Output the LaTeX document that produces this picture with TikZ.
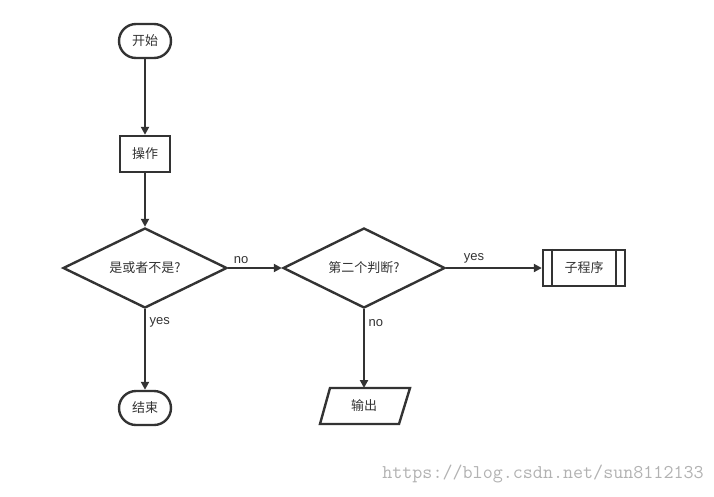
\documentclass[tikz,border=0pt]{standalone}
\usepackage{fontspec}
\newfontfamily\cjk{Noto Sans CJK SC}
\setmainfont{Liberation Sans}
\usetikzlibrary{shapes.geometric,shapes.multipart,arrows.meta}
\definecolor{ink}{HTML}{333333}
\begin{document}
\begin{tikzpicture}[x=1pt,y=-1pt,
  every node/.style={font=\cjk\fontsize{13}{15}\selectfont,text=ink},
  line/.style={draw=ink,line width=2.4pt},
  term/.style={line,rounded corners=17pt,minimum width=52pt,minimum height=34pt,inner sep=0pt},
  proc/.style={line,minimum width=50pt,minimum height=36pt,inner sep=0pt},
  dec/.style={line,diamond,aspect=2.05,minimum width=164pt,minimum height=80pt,inner sep=0pt},
  arr/.style={draw=ink,line width=2.4pt,-{Triangle[length=8pt,width=8pt]}},
  lab/.style={font=\fontsize{13}{15}\selectfont}]
\useasboundingbox (0,0) rectangle (714,496);
\node[term] (start) at (145,41) {开始};
\node[proc] (op) at (145,154) {操作};
\node[dec] (d1) at (145,268) {是或者不是?};
\node[dec,minimum width=162pt] (d2) at (364,268) {第二个判断?};
\node[proc,minimum width=82pt] (sub) at (584,268) {子程序};
\draw[line] ([xshift=10pt]sub.north west) -- ([xshift=10pt]sub.south west)
  ([xshift=-10pt]sub.north east) -- ([xshift=-10pt]sub.south east);
\node[term] (end) at (145,408) {结束};
\node[inner sep=0pt,minimum width=70pt,minimum height=36pt] (out) at (364,406) {输出};
\draw[line,line join=miter] (330,388) -- (410,388) -- (399,424) -- (320,424) -- cycle;
\draw[arr] (start) -- (op);
\draw[arr] (op) -- (d1);
\draw[arr] (d1) -- (d2) node[pos=0.5,above,lab,xshift=-14pt] {no};
\draw[arr] (d2) -- (sub) node[pos=0.5,above,lab,xshift=-20pt] {yes};
\draw[arr] (d1) -- (end) node[pos=0.16,right,lab] {yes};
\draw[arr] (d2) -- (out.north |- 0,388) node[pos=0.18,right,lab] {no};
\node[font=\ttfamily\fontsize{19.5}{20}\selectfont,text=gray!60] (wm) at (543,474) {https://blog.csdn.net/sun8112133};
\end{tikzpicture}
\end{document}
